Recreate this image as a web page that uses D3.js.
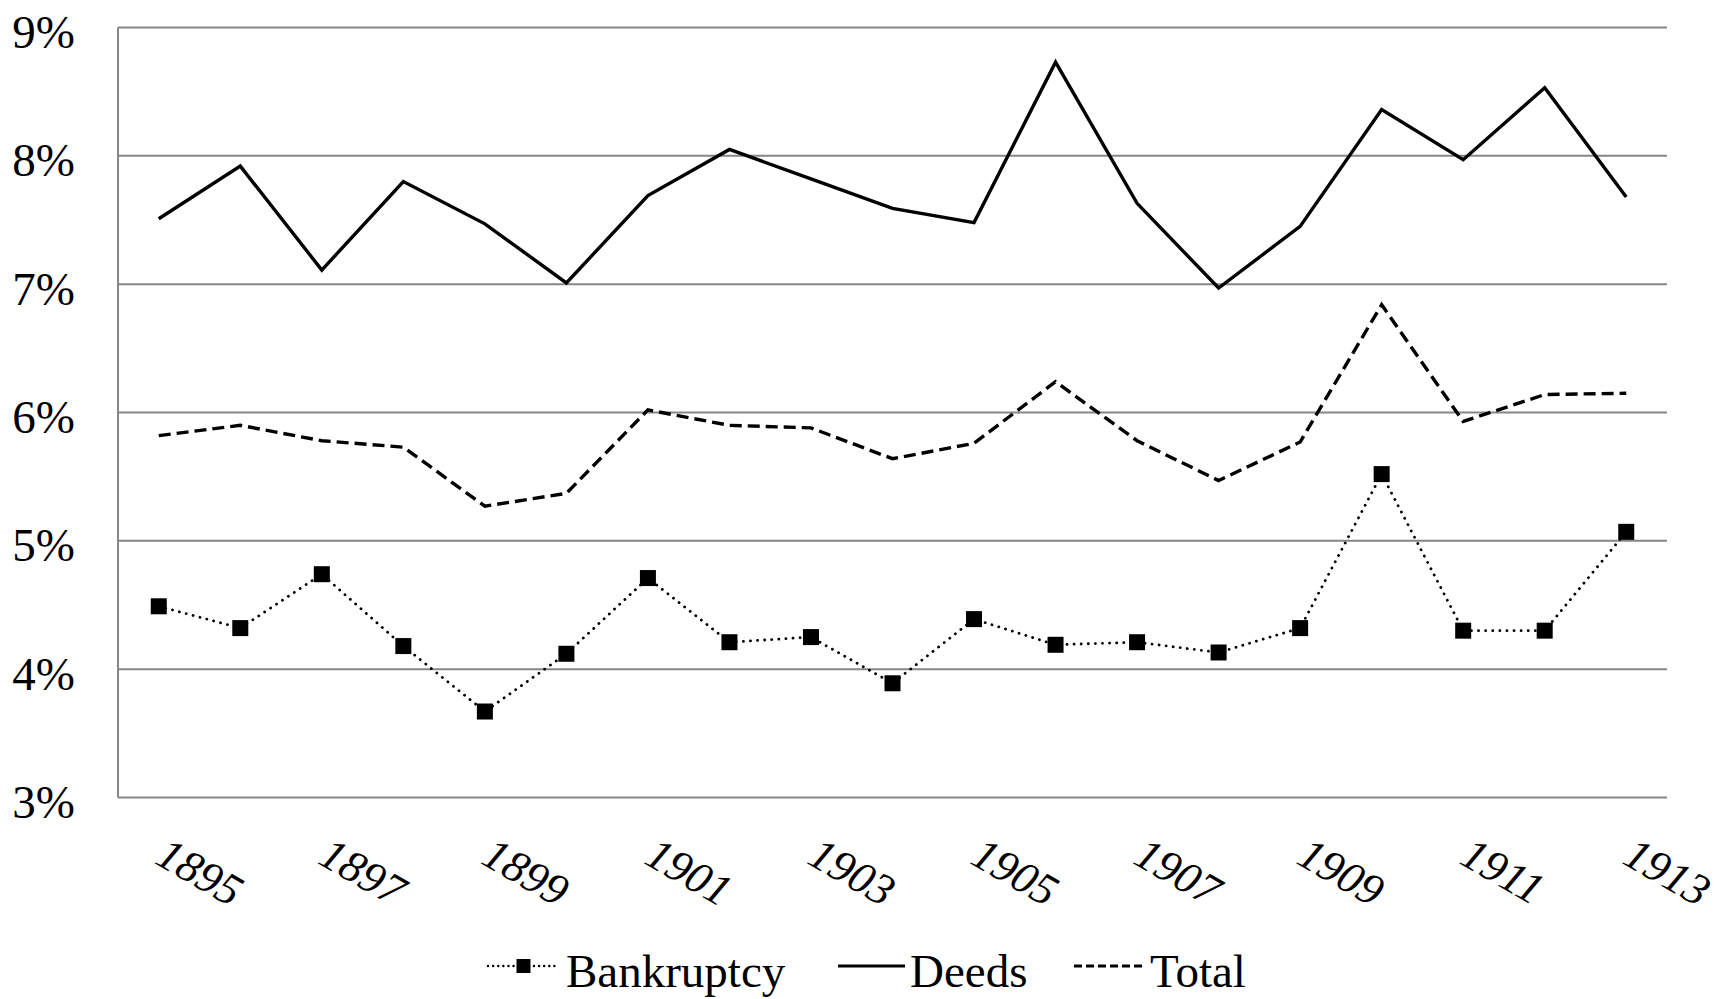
<!DOCTYPE html>
<html>
<head>
<meta charset="utf-8">
<script src="https://cdn.jsdelivr.net/npm/d3@7"></script>
<style>
  html, body { margin: 0; padding: 0; background: #fff; }
  svg { display: block; }
</style>
</head>
<body>
<svg id="chart" width="1719" height="999"></svg>
<script>
const years = ["1895","1896","1897","1898","1899","1900","1901","1902","1903","1904",
               "1905","1906","1907","1908","1909","1910","1911","1912","1913"];
const bankruptcy = [4.49,4.32,4.74,4.18,3.67,4.12,4.71,4.21,4.25,3.89,
                    4.39,4.19,4.21,4.13,4.32,5.52,4.30,4.30,5.07];
const deeds = [7.51,7.92,7.11,7.80,7.47,7.01,7.69,8.05,7.82,7.59,
               7.48,8.73,7.63,6.97,7.45,8.36,7.97,8.53,7.68];
const total = [5.82,5.90,5.78,5.73,5.27,5.37,6.02,5.90,5.88,5.64,
               5.76,6.24,5.78,5.47,5.77,6.84,5.93,6.14,6.15];
const xTickLabels = ["1895","1897","1899","1901","1903","1905","1907","1909","1911","1913"];
const yTicks = [3,4,5,6,7,8,9];
const seriesNames = ["Bankruptcy","Deeds","Total"];

const svg = d3.select("#chart");
const L = 118, R = 1667, T = 27.5, B = 797.5;
const x = d3.scalePoint().domain(years).range([L, R]).padding(0.5);
const y = d3.scaleLinear().domain([3, 9]).range([B, T]);
const gridColor = "#868686";
const serif = "'Liberation Serif','Times New Roman',serif";

// gridlines
svg.append("g").selectAll("line").data(yTicks).join("line")
  .attr("x1", L).attr("x2", R)
  .attr("y1", d => y(d)).attr("y2", d => y(d))
  .attr("stroke", gridColor).attr("stroke-width", 2);
// left axis line
svg.append("line").attr("x1", L).attr("x2", L).attr("y1", T).attr("y2", B)
  .attr("stroke", gridColor).attr("stroke-width", 2);

// y axis labels
const yAxis = svg.append("g").attr("transform", `translate(${L},0)`)
  .call(d3.axisLeft(y).tickValues(yTicks).tickFormat(d => d + "%").tickSize(0).tickPadding(43));
yAxis.select(".domain").remove();
yAxis.selectAll("text")
  .attr("font-family", serif).attr("font-size", 47).attr("fill", "#000")
  .attr("dy", "0.38em").attr("transform", "translate(0,2)");

// x axis labels
const xAxis = svg.append("g").attr("transform", `translate(0,${B})`)
  .call(d3.axisBottom(x).tickValues(xTickLabels).tickSize(0));
xAxis.select(".domain").remove();
xAxis.selectAll("text")
  .attr("font-family", serif).attr("font-size", 45).attr("font-style", "italic").attr("fill", "#000")
  .attr("text-anchor", "start").attr("y", 0).attr("dy", 0)
  .attr("transform", d => `translate(${-6},${65}) rotate(30)`);

// lines
const line = d3.line().x((d, i) => x(years[i])).y(d => y(d));
svg.append("path").datum(deeds).attr("d", line)
  .attr("fill", "none").attr("stroke", "#000").attr("stroke-width", 3.4).attr("stroke-linejoin", "miter");
svg.append("path").datum(total).attr("d", line)
  .attr("fill", "none").attr("stroke", "#000").attr("stroke-width", 3.4)
  .attr("stroke-dasharray", "12,6");
svg.append("path").datum(bankruptcy).attr("d", line)
  .attr("fill", "none").attr("stroke", "#000").attr("stroke-width", 2.8)
  .attr("stroke-dasharray", "0.1,7").attr("stroke-linecap", "round");
svg.append("g").selectAll("rect").data(bankruptcy).join("rect")
  .attr("x", (d, i) => x(years[i]) - 8).attr("y", d => y(d) - 8)
  .attr("width", 16).attr("height", 16).attr("fill", "#000");

// legend
const legY = 966, legBase = 987;
const legItems = [
  {name: seriesNames[0], x1: 488, x2: 559, tx: 566, dash: "0.1,5", w: 2.4, cap: "round", marker: true},
  {name: seriesNames[1], x1: 838, x2: 905, tx: 910, dash: null, w: 3, cap: "butt", marker: false},
  {name: seriesNames[2], x1: 1074, x2: 1146, tx: 1150, dash: "8,4", w: 3, cap: "butt", marker: false}
];
const leg = svg.append("g");
legItems.forEach(it => {
  leg.append("line").attr("x1", it.x1).attr("x2", it.x2).attr("y1", legY).attr("y2", legY)
    .attr("stroke", "#000").attr("stroke-width", it.w)
    .attr("stroke-dasharray", it.dash).attr("stroke-linecap", it.cap);
  if (it.marker) {
    leg.append("rect").attr("x", (it.x1 + it.x2) / 2 - 7).attr("y", legY - 7)
      .attr("width", 14).attr("height", 14).attr("fill", "#000");
  }
  leg.append("text").text(it.name)
    .attr("x", it.tx).attr("y", legBase)
    .attr("font-family", serif).attr("font-size", 47).attr("fill", "#000");
});
</script>
</body>
</html>
